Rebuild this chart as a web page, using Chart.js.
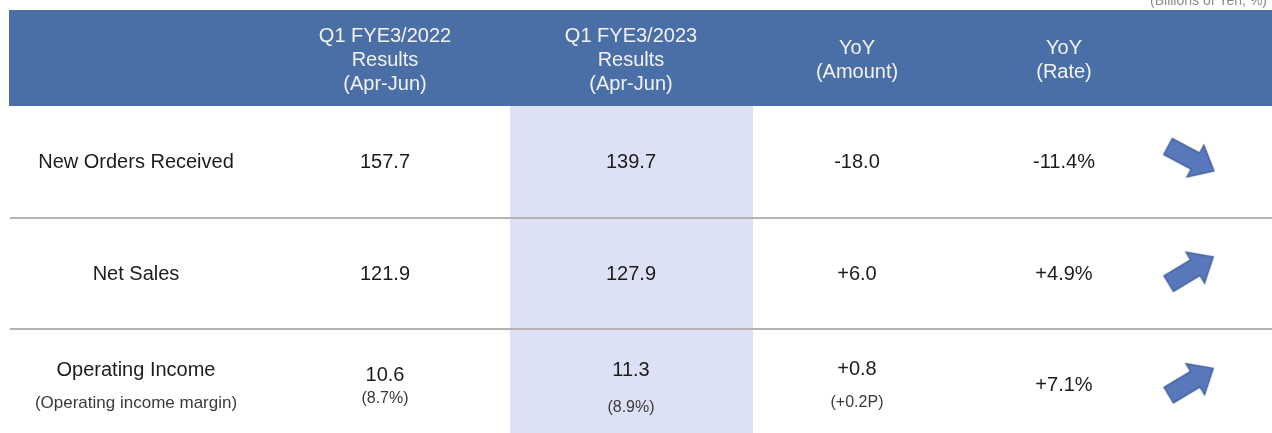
<!DOCTYPE html>
<html>
<head>
<meta charset="utf-8">
<script src="https://cdn.jsdelivr.net/npm/chart.js@4/dist/chart.umd.min.js"></script>
<style>
  body { margin: 0; background: #fff; }
  canvas { display: block; }
</style>
</head>
<body>
<canvas id="myChart" width="1272" height="433"></canvas>
<script>
"use strict";

// data
const headerLabels = [
  ["Q1 FYE3/2022", "Results", "(Apr-Jun)"],
  ["Q1 FYE3/2023", "Results", "(Apr-Jun)"],
  ["YoY", "(Amount)"],
  ["YoY", "(Rate)"]
];
const rowLabels = ["New Orders Received", "Net Sales", "Operating Income"];
const rowNotes = [null, null, "(Operating income margin)"];
const results2022 = [157.7, 121.9, 10.6];
const results2023 = [139.7, 127.9, 11.3];
const yoyAmount = [-18.0, 6.0, 0.8];
const yoyRate = [-11.4, 4.9, 7.1];
const margin2022 = [null, null, 8.7];
const margin2023 = [null, null, 8.9];
const marginChange = [null, null, 0.2];
const unitNote = "(Billions of Yen, %)";

// layout (scale units)
const colCenters = [136, 385, 631, 857, 1064, 1191];
const highlightCol = [510, 753];
const headerTop = 10;
const headerBottom = 106;
const rowHeight = 111.5;
const rowCenter = (i) => headerBottom + rowHeight * (i + 0.5);
// vertical offsets of main line / note line when a row has a note
const noteOffsets = [[-15, 18], [-10, 13], [-15, 22], [-16, 17]];

const FONT = "'Liberation Sans', Arial, sans-serif";

const fmt = (v) => v.toFixed(1);
const signed = (v) => (v >= 0 ? "+" : "") + v.toFixed(1);

// arrow marker
function makeArrow() {
  const c = document.createElement("canvas");
  c.width = 56;
  c.height = 40;
  const g = c.getContext("2d");
  g.beginPath();
  g.moveTo(2, 11);
  g.lineTo(33, 11);
  g.lineTo(33, 2);
  g.lineTo(54, 20);
  g.lineTo(33, 38);
  g.lineTo(33, 29);
  g.lineTo(2, 29);
  g.closePath();
  g.fillStyle = "#5878bb";
  g.fill();
  g.lineWidth = 1.3;
  g.strokeStyle = "#3e5e98";
  g.stroke();
  return c;
}
const arrowImg = makeArrow();

const tablePlugin = {
  id: "table",
  beforeDatasetsDraw(chart) {
    const { ctx, scales: { x, y } } = chart;
    ctx.save();
    // highlight column
    ctx.fillStyle = "#dce1f5";
    ctx.fillRect(x.getPixelForValue(highlightCol[0]), y.getPixelForValue(headerBottom),
      x.getPixelForValue(highlightCol[1]) - x.getPixelForValue(highlightCol[0]),
      y.getPixelForValue(433) - y.getPixelForValue(headerBottom));
    // header band
    ctx.fillStyle = "#4a6fa6";
    ctx.fillRect(x.getPixelForValue(9), y.getPixelForValue(headerTop),
      x.getPixelForValue(1272) - x.getPixelForValue(9),
      y.getPixelForValue(headerBottom) - y.getPixelForValue(headerTop));
    // row dividers
    ctx.strokeStyle = "#b3b3b3";
    ctx.lineWidth = 2;
    for (let i = 1; i < rowLabels.length; i++) {
      const py = Math.round(y.getPixelForValue(headerBottom + rowHeight * i));
      ctx.beginPath();
      ctx.moveTo(x.getPixelForValue(10), py);
      ctx.lineTo(x.getPixelForValue(1272), py);
      ctx.stroke();
    }
    ctx.restore();
  },
  afterDatasetsDraw(chart) {
    const { ctx, scales: { x, y } } = chart;
    ctx.save();
    ctx.textAlign = "center";
    ctx.textBaseline = "middle";

    // unit note, cut off at the top
    ctx.font = "14px " + FONT;
    ctx.fillStyle = "#8a8a8a";
    ctx.textAlign = "right";
    ctx.textBaseline = "alphabetic";
    ctx.fillText(unitNote, x.getPixelForValue(1267), y.getPixelForValue(5));
    ctx.textAlign = "center";
    ctx.textBaseline = "middle";

    // header
    ctx.font = "20px " + FONT;
    ctx.fillStyle = "#f2f2f2";
    headerLabels.forEach((lines, c) => {
      const mid = (headerTop + headerBottom) / 2 + 2;
      lines.forEach((t, k) => {
        const ly = mid + (k - (lines.length - 1) / 2) * 24;
        ctx.fillText(t, x.getPixelForValue(colCenters[c + 1]), y.getPixelForValue(ly));
      });
    });

    // body
    rowLabels.forEach((label, i) => {
      const cy = rowCenter(i) + 1;
      const hasNote = rowNotes[i] !== null;
      const cells = [
        [label, rowNotes[i]],
        [fmt(results2022[i]), margin2022[i] !== null ? "(" + fmt(margin2022[i]) + "%)" : null],
        [fmt(results2023[i]), margin2023[i] !== null ? "(" + fmt(margin2023[i]) + "%)" : null],
        [signed(yoyAmount[i]), marginChange[i] !== null ? "(" + signed(marginChange[i]) + "P)" : null],
        [signed(yoyRate[i]) + "%", null]
      ];
      cells.forEach((cell, c) => {
        const px = x.getPixelForValue(colCenters[c]);
        const off = hasNote && cell[1] !== null ? noteOffsets[c] : [0, 0];
        ctx.font = "20px " + FONT;
        ctx.fillStyle = "#1c1c1c";
        ctx.fillText(cell[0], px, y.getPixelForValue(cy + off[0]));
        if (cell[1] !== null) {
          ctx.font = (c === 0 ? "17px " : "16px ") + FONT;
          ctx.fillStyle = "#3a3a3a";
          ctx.fillText(cell[1], px, y.getPixelForValue(cy + off[1]));
        }
      });
    });
    ctx.restore();
  }
};

const data = {
  datasets: [{
    label: "YoY trend",
    data: yoyRate.map((v, i) => ({ x: colCenters[5], y: rowCenter(i) - 3 })),
    pointStyle: arrowImg,
    rotation: yoyRate.map((v) => (v < 0 ? 28 : -31)),
    pointRadius: 20
  }]
};

const config = {
  type: "scatter",
  data,
  options: {
    responsive: false,
    animation: false,
    events: [],
    layout: { padding: 0, autoPadding: false },
    plugins: { legend: { display: false }, tooltip: { enabled: false } },
    scales: {
      x: { type: "linear", min: 0, max: 1272, display: false },
      y: { type: "linear", min: 0, max: 433, reverse: true, display: false }
    }
  },
  plugins: [tablePlugin]
};

const myChart = new Chart(document.getElementById("myChart"), config);
</script>
</body>
</html>
